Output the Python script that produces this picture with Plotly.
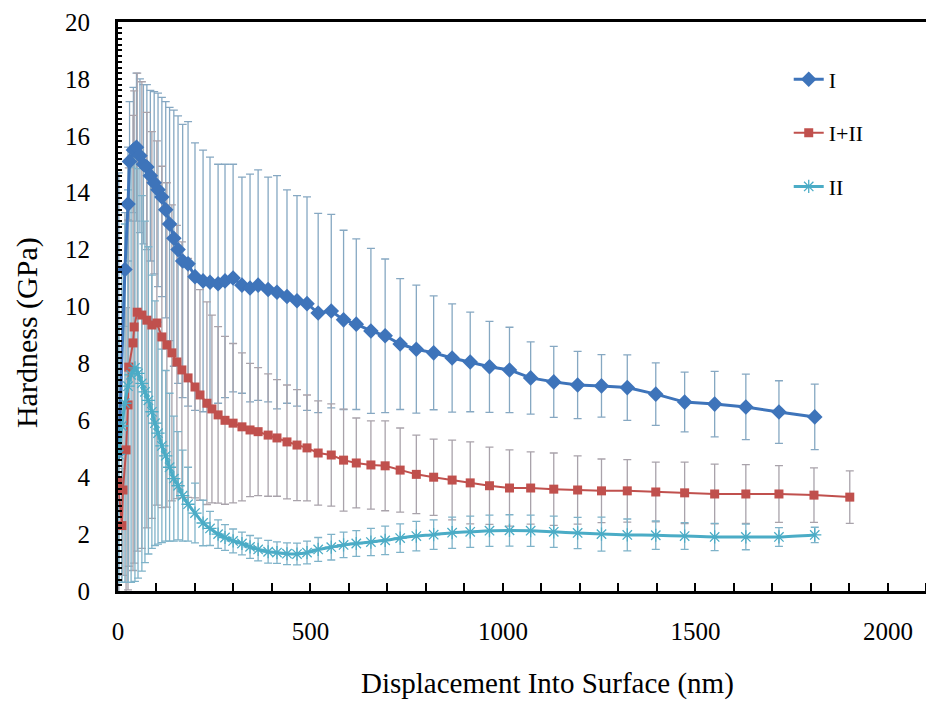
import plotly.graph_objects as go

# ---- Series I (blue diamonds) ----
x_I = [2, 18, 26, 30, 40, 48, 57, 66, 75, 84, 94, 104, 114, 124, 134, 145, 156, 168, 182, 200,
       221, 239, 260, 278, 299, 322, 343, 364, 390, 413, 439, 465, 491, 520, 554, 586, 619, 657,
       694, 733, 775, 820, 868, 915, 965, 1017, 1072, 1132, 1194, 1256, 1323, 1397, 1472, 1550,
       1631, 1717, 1810]
y_I = [4.9, 11.3, 13.6, 15.1, 15.5, 15.6, 15.3, 15.0, 14.9, 14.6, 14.35, 14.1, 13.85, 13.4, 12.9,
       12.4, 12.0, 11.6, 11.5, 11.05, 10.9, 10.85, 10.8, 10.9, 11.0, 10.75, 10.65, 10.75, 10.6, 10.5,
       10.35, 10.2, 10.1, 9.77, 9.84, 9.53, 9.38, 9.14, 8.97, 8.68, 8.5, 8.37, 8.19, 8.05, 7.88,
       7.77, 7.49, 7.35, 7.24, 7.21, 7.15, 6.92, 6.64, 6.57, 6.47, 6.29, 6.12]
e_I = [9.8, 2.0, 2.0, 2.1, 2.2, 2.6, 2.7, 2.8, 2.9, 3.0, 3.2, 3.4, 3.5, 3.8, 4.1, 4.5, 4.7, 4.8,
       5.0, 4.7, 4.6, 4.4, 4.2, 4.1, 4.0, 3.8, 4.0, 4.05, 3.95, 4.1, 3.75, 3.7, 3.75, 3.5, 3.4,
       3.15, 3.0, 2.9, 2.7, 2.3, 2.25, 2.0, 1.9, 1.75, 1.6, 1.5, 1.27, 1.25, 1.18, 1.1, 1.15, 1.1,
       1.05, 1.15, 1.15, 1.1, 1.15]

# ---- Series I+II (red squares) ----
x_I_II = [0, 10, 13, 21, 26, 28, 39, 42, 50, 62, 75, 88, 101, 114, 127, 140, 153, 166, 182, 200,
          213, 231, 244, 260, 278, 299, 322, 343, 364, 390, 413, 439, 465, 491, 520, 554, 586, 619,
          657, 694, 733, 775, 820, 868, 915, 965, 1017, 1072, 1132, 1194, 1256, 1323, 1397, 1472,
          1550, 1631, 1717, 1808, 1901]
y_I_II = [3.85, 2.3, 3.55, 4.96, 6.54, 7.87, 8.72, 9.28, 9.8, 9.7, 9.52, 9.35, 9.42, 8.93, 8.65,
          8.37, 8.05, 7.77, 7.49, 7.17, 6.89, 6.6, 6.4, 6.19, 6.0, 5.9, 5.77, 5.66, 5.6, 5.48, 5.38,
          5.24, 5.13, 5.03, 4.85, 4.78, 4.6, 4.5, 4.43, 4.4, 4.25, 4.1, 4.0, 3.9, 3.8, 3.7, 3.62,
          3.62, 3.58, 3.55, 3.52, 3.52, 3.48, 3.45, 3.41, 3.41, 3.41, 3.37, 3.3]
e_I_II = [4.0, 2.0, 3.0, 5.0, 6.5, 7.0, 8.0, 8.3, 8.4, 8.2, 7.3, 6.8, 6.4, 6.0, 5.7, 5.2, 4.8, 4.5,
          4.2, 3.9, 3.7, 3.56, 3.3, 3.1, 2.95, 2.8, 2.6, 2.34, 2.25, 2.15, 2.05, 2.0, 1.95, 1.86,
          1.83, 1.8, 1.79, 1.58, 1.55, 1.58, 1.48, 1.38, 1.34, 1.4, 1.44, 1.36, 1.34, 1.27, 1.27,
          1.2, 1.12, 1.1, 1.05, 1.08, 1.05, 1.03, 1.0, 0.96, 0.92]

# ---- Series II (cyan asterisks, smoothed line) ----
x_II = [2, 10, 18, 26, 34, 44, 52, 62, 70, 79, 88, 96, 104, 114, 124, 134, 145, 156, 168, 182,
        200, 221, 239, 260, 278, 299, 322, 343, 364, 390, 413, 439, 465, 491, 520, 554, 586, 619,
        657, 694, 733, 775, 820, 868, 915, 965, 1017, 1072, 1132, 1194, 1256, 1323, 1397, 1472,
        1550, 1631, 1717, 1810]
y_II = [4.8, 5.8, 6.6, 7.2, 7.6, 7.84, 7.65, 7.3, 7.0, 6.7, 6.3, 5.9, 5.55, 5.1, 4.75, 4.35, 3.95,
        3.7, 3.35, 3.05, 2.74, 2.39, 2.2, 2.0, 1.88, 1.76, 1.67, 1.55, 1.46, 1.38, 1.35, 1.31, 1.3,
        1.35, 1.46, 1.54, 1.62, 1.67, 1.72, 1.78, 1.86, 1.93, 1.98, 2.05, 2.08, 2.12, 2.13, 2.12,
        2.08, 2.04, 2.0, 1.97, 1.96, 1.93, 1.9, 1.9, 1.9, 1.97]
e_II = [4.5, 5.5, 6.3, 6.9, 7.3, 7.5, 7.2, 6.6, 6.0, 5.4, 4.8, 4.3, 3.9, 3.4, 3.0, 2.6, 2.2, 1.9,
        1.6, 1.3, 1.05, 0.8, 0.6, 0.5, 0.45, 0.42, 0.4, 0.4, 0.4, 0.4, 0.38, 0.38, 0.38, 0.4, 0.42,
        0.45, 0.45, 0.45, 0.48, 0.5, 0.5, 0.52, 0.52, 0.55, 0.55, 0.55, 0.55, 0.55, 0.55, 0.55,
        0.6, 0.56, 0.5, 0.47, 0.48, 0.45, 0.33, 0.27]

x_ticks = [0, 500, 1000, 1500, 2000]
y_ticks = [0, 2, 4, 6, 8, 10, 12, 14, 16, 18, 20]
x_title = "Displacement Into Surface (nm)"
y_title = "Hardness (GPa)"

BLUE = "#3e74ba"
RED = "#c0504d"
CYAN = "#4bacc6"
SERIF = "Liberation Serif"

fig = go.Figure()

# error bars first (drawn behind lines)
for xs, ys, es, col in [(x_I, y_I, e_I, "#86a8c2"), (x_I_II, y_I_II, e_I_II, "#a9a3ab"),
                        (x_II, y_II, e_II, "#7fb3c9")]:
    fig.add_trace(go.Scatter(
        x=xs, y=ys, mode="markers", showlegend=False, hoverinfo="skip",
        marker=dict(size=1, color="rgba(0,0,0,0)"),
        error_y=dict(type="data", array=es, symmetric=True, color=col,
                     thickness=1.3, width=4),
    ))

fig.add_trace(go.Scatter(
    x=x_I, y=y_I, name="I", mode="lines+markers", legendgroup="a",
    line=dict(color=BLUE, width=3),
    marker=dict(symbol="diamond", size=12, color=BLUE),
))
fig.add_trace(go.Scatter(
    x=x_I_II, y=y_I_II, name="I+II", mode="lines+markers", legendgroup="b",
    line=dict(color=RED, width=2),
    marker=dict(symbol="square", size=9, color=RED),
))
fig.add_trace(go.Scatter(
    x=x_II, y=y_II, name="II", mode="lines+markers", legendgroup="c",
    line=dict(color=CYAN, width=3, shape="spline", smoothing=0.8),
    marker=dict(symbol="asterisk-open", size=11, color=CYAN, line=dict(color=CYAN, width=1.3)),
))

fig.update_layout(
    width=926, height=694,
    margin=dict(l=110, r=3, t=14, b=111, autoexpand=False),
    paper_bgcolor="white", plot_bgcolor="white",
    font=dict(family=SERIF, color="black", size=25),
    legend=dict(x=0.825, y=0.936, xanchor="left", yanchor="top",
                font=dict(family=SERIF, size=22, color="black"),
                tracegroupgap=22, bgcolor="rgba(0,0,0,0)"),
    showlegend=True,
    annotations=[
        dict(text=x_title, xref="paper", yref="paper", x=0.528, y=-0.162,
             xanchor="center", yanchor="middle", showarrow=False,
             font=dict(family=SERIF, size=29, color="black")),
        dict(text=y_title, xref="paper", yref="paper", x=-0.112, y=0.455,
             xanchor="center", yanchor="middle", showarrow=False, textangle=-90,
             font=dict(family=SERIF, size=30, color="black")),
    ],
)
fig.update_xaxes(
    range=[0, 2112], tickvals=x_ticks, ticktext=[str(v) for v in x_ticks],
    showline=True, linecolor="black", linewidth=3, mirror=True, automargin=False,
    ticks="inside", ticklen=8, tickwidth=2, tickcolor="black",
    minor=dict(dtick=100, ticks="inside", ticklen=8, tickwidth=2, tickcolor="black"),
    showgrid=False, zeroline=False, ticklabelstandoff=16, ticklabeloverflow="allow",
    tickfont=dict(family=SERIF, size=25),
)
fig.update_yaxes(
    range=[0, 20], tickvals=y_ticks, ticktext=[str(v) for v in y_ticks],
    showline=True, linecolor="black", linewidth=3, mirror=True, automargin=False,
    ticks="inside", ticklen=4, tickwidth=2, tickcolor="black",
    minor=dict(dtick=0.2, ticks="inside", ticklen=4, tickwidth=2, tickcolor="black"),
    showgrid=False, zeroline=False, ticklabelstandoff=20, ticklabeloverflow="allow",
    tickfont=dict(family=SERIF, size=25),
)

fig.write_html("out.html")
